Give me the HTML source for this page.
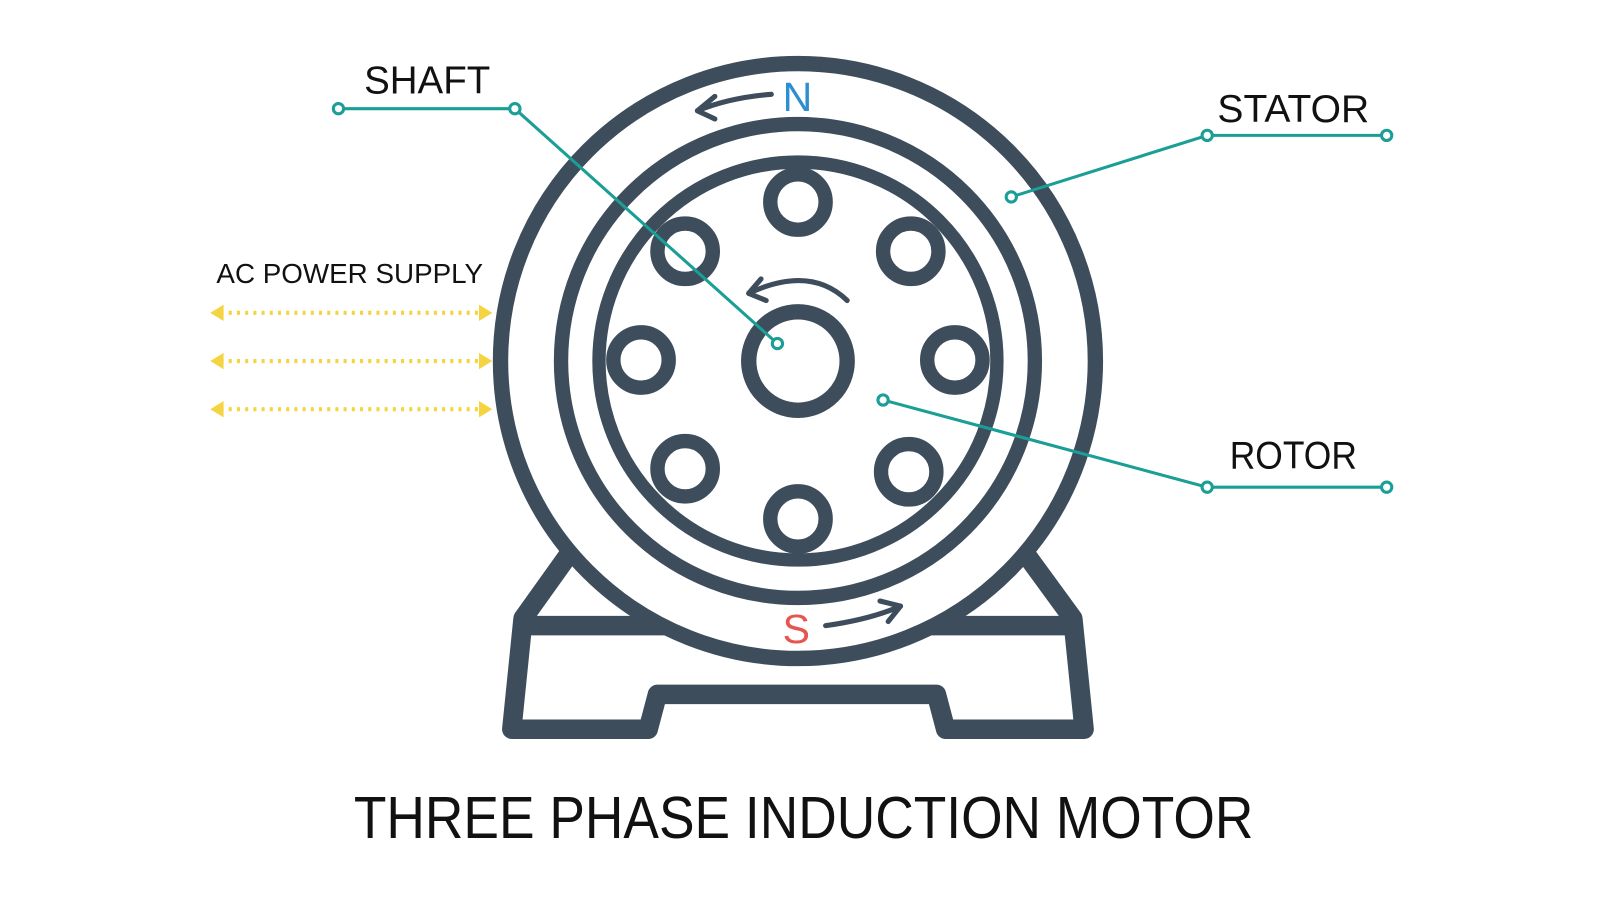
<!DOCTYPE html>
<html><head><meta charset="utf-8"><style>
html,body{margin:0;padding:0;background:#fff;width:1600px;height:900px;overflow:hidden}
svg{display:block}
text{font-family:"Liberation Sans",sans-serif}
</style></head><body>
<svg width="1600" height="900" viewBox="0 0 1560 877.5" xmlns="http://www.w3.org/2000/svg">
<rect width="1560" height="877.5" fill="#fff"/>
<g stroke="#3d4d5c" fill="none" stroke-linejoin="round" stroke-linecap="round">
  <path d="M555,540 L510,603 L499,711 L632,711 L641,677 L913,677 L922,711 L1057,711 L1046,603 L1000,540" stroke-width="19"/>
  <line x1="510" y1="610" x2="1046" y2="610" stroke-width="19"/>
  <circle cx="778" cy="352" r="290" fill="#fff" stroke-width="15"/>
  <circle cx="778" cy="352" r="231" stroke-width="14"/>
  <circle cx="778" cy="352" r="194" stroke-width="13"/>
  <circle cx="778" cy="352" r="48" stroke-width="15"/>
  <g stroke-width="14">
    <circle cx="778" cy="197" r="27"/>
    <circle cx="668" cy="245" r="27"/>
    <circle cx="888" cy="245" r="27"/>
    <circle cx="625" cy="351" r="27"/>
    <circle cx="931" cy="351" r="27"/>
    <circle cx="668" cy="457" r="27"/>
    <circle cx="886" cy="460" r="27"/>
    <circle cx="778" cy="506" r="27"/>
  </g>
  <g stroke-width="5">
    <path d="M752,92 Q712,95 680,108"/>
    <path d="M697,94 L680,108 L697,116"/>
    <path d="M826,293 Q790,258 730,286"/>
    <path d="M742,272 L730,286 L747,293"/>
    <path d="M805,610 Q848,604 878,591"/>
    <path d="M858,586 L878,591 L866,606"/>
  </g>
</g>
<text x="763" y="108" font-size="40" fill="#2e8fd0">N</text>
<text x="763" y="627" font-size="40" fill="#e85550">S</text>
<g stroke="#1a9e96" stroke-width="3" fill="none">
  <polyline points="330,106 502,106 758,335"/>
  <polyline points="986,192 1177,132 1352,132"/>
  <polyline points="861,390 1177,475 1352,475"/>
</g>
<g stroke="#1a9e96" stroke-width="3" fill="#fff">
  <circle cx="330" cy="106" r="5"/><circle cx="502" cy="106" r="5"/><circle cx="758" cy="335" r="5"/>
  <circle cx="986" cy="192" r="5"/><circle cx="1177" cy="132" r="5"/><circle cx="1352" cy="132" r="5"/>
  <circle cx="861" cy="390" r="5"/><circle cx="1177" cy="475" r="5"/><circle cx="1352" cy="475" r="5"/>
</g>
<g stroke="#f5d442" stroke-width="4" stroke-dasharray="3,5" fill="none">
  <line x1="215" y1="305" x2="470" y2="305"/>
  <line x1="215" y1="352" x2="470" y2="352"/>
  <line x1="215" y1="399" x2="470" y2="399"/>
</g>
<g fill="#f5d442">
  <polygon points="205,305 218,297 218,313"/><polygon points="480,305 467,297 467,313"/>
  <polygon points="205,352 218,344 218,360"/><polygon points="480,352 467,344 467,360"/>
  <polygon points="205,399 218,391 218,407"/><polygon points="480,399 467,391 467,407"/>
</g>
<g fill="#111">
  <text x="355" y="91" font-size="38" textLength="123" lengthAdjust="spacingAndGlyphs">SHAFT</text>
  <text x="1187" y="119" font-size="38" textLength="148" lengthAdjust="spacingAndGlyphs">STATOR</text>
  <text x="1199" y="457" font-size="38" textLength="124" lengthAdjust="spacingAndGlyphs">ROTOR</text>
  <text x="211" y="276" font-size="27" textLength="260" lengthAdjust="spacingAndGlyphs">AC POWER SUPPLY</text>
  <text x="345" y="817" font-size="58" textLength="877" lengthAdjust="spacingAndGlyphs">THREE PHASE INDUCTION MOTOR</text>
</g>
</svg>
</body></html>
